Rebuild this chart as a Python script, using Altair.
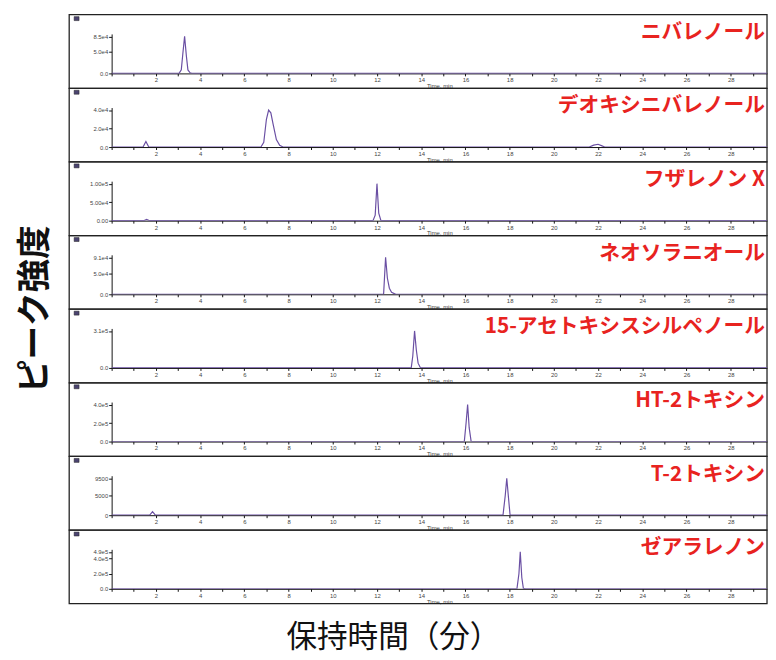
import altair as alt
import pandas as pd

# ---------------- data ----------------
names = ["ニバレノール", "デオキシニバレノール", "フザレノン X", "ネオソラニオール",
         "15-アセトキシスシルペノール", "HT-2トキシン", "T-2トキシン", "ゼアラレノン"]

times = [
    [0, 3.05, 3.15, 3.22, 3.3, 3.38, 3.45, 3.55, 3.62, 29.64],
    [0, 1.42, 1.55, 1.68, 6.75, 6.88, 7.0, 7.1, 7.2, 7.3, 7.45, 7.6, 7.75, 21.6, 21.8, 22.0, 22.15, 22.3, 29.64],
    [0, 1.45, 1.58, 1.72, 11.82, 11.92, 12.0, 12.08, 12.18, 29.64],
    [0, 12.3, 12.39, 12.47, 12.56, 12.66, 12.85, 29.64],
    [0, 13.55, 13.62, 13.7, 13.78, 13.86, 13.97, 29.64],
    [0, 15.95, 16.03, 16.1, 16.17, 16.26, 29.64],
    [0, 1.72, 1.85, 1.98, 17.7, 17.8, 17.87, 17.94, 18.02, 29.64],
    [0, 18.33, 18.42, 18.48, 18.55, 18.62, 18.72, 29.64],
]
values = [
    [0, 0, 8000, 45000, 85000, 40000, 8000, 1500, 0, 0],
    [0, 0, 6000, 0, 0, 5000, 30000, 40000, 37000, 25000, 8000, 2000, 0, 0, 2000, 3000, 1500, 0, 0],
    [0, 0, 3500, 0, 0, 15000, 100000, 20000, 0, 0],
    [0, 0, 91000, 40000, 15000, 5000, 0, 0],
    [0, 0, 100000, 310000, 150000, 40000, 0, 0],
    [0, 0, 200000, 400000, 150000, 0, 0],
    [0, 0, 900, 0, 0, 5000, 9500, 5000, 0, 0],
    [0, 0, 200000, 490000, 150000, 8000, 0, 0],
]
ytick_values = [
    [0, 50000, 85000],
    [0, 20000, 40000],
    [0, 50000, 100000],
    [0, 50000, 91000],
    [0, 310000],
    [0, 200000, 400000],
    [0, 5000, 9500],
    [0, 200000, 400000, 490000],
]
ytick_labels = [
    ["0.0", "5.0e4", "8.5e4"],
    ["0.0", "2.0e4", "4.0e4"],
    ["0.00", "5.00e4", "1.00e5"],
    ["0.0", "5.0e4", "9.1e4"],
    ["0.0", "3.1e5"],
    ["0.0", "2.0e5", "4.0e5"],
    ["0", "5000", "9500"],
    ["0.0", "2.0e5", "4.0e5", "4.9e5"],
]
ymax = [85000, 40000, 100000, 91000, 310000, 400000, 9500, 490000]
x_ticks = list(range(0, 30))

# ---------------- layout ----------------
W = 664
H = 40
XMAX = 29.64
SPACING = 34.6
PITCH = H + SPACING
BOX_TOP = -19.5
BOX_BOTTOM = PITCH - 19.5
BOX_LEFT = -43
LINE_COLOR = "#6a4fa3"
RED = "#e8231f"
FONT = "Noto Sans CJK JP"


def label_expr(vals, labs):
    expr = "''"
    for v, l in zip(vals, labs):
        expr = f"datum.value == {v} ? '{l}' : ({expr})"
    return expr


def panel(i):
    df = pd.DataFrame({"t": times[i], "v": values[i]})
    top = ymax[i] * H / 37.5
    x = alt.X(
        "t:Q",
        scale=alt.Scale(domain=[0, XMAX], nice=False, zero=False),
        axis=alt.Axis(
            values=x_ticks,
            labelExpr="datum.value % 2 == 0 && datum.value > 0 ? datum.label : ''",
            labelOverlap=False,
            labelFontSize=6,
            labelPadding=1,
            tickSize=2.5,
            title="Time, min",
            titleFontSize=6,
            titleFontWeight="normal",
            titlePadding=0,
            grid=False,
        ),
    )
    y = alt.Y(
        "v:Q",
        scale=alt.Scale(domain=[0, top], nice=False),
        axis=alt.Axis(
            values=ytick_values[i],
            labelExpr=label_expr(ytick_values[i], ytick_labels[i]),
            labelOverlap=False,
            labelFontSize=6,
            labelPadding=1,
            tickSize=3,
            title=None,
            grid=False,
        ),
    )
    line = alt.Chart(df).mark_line(color=LINE_COLOR, strokeWidth=1.2, clip=True).encode(x=x, y=y)
    box = alt.Chart(alt.Data(values=[{"a": 1}])).mark_rect(
        fill=None, stroke="#222222", strokeWidth=1.3
    ).encode(
        x=alt.value(BOX_LEFT), x2=alt.value(W),
        y=alt.value(BOX_TOP), y2=alt.value(BOX_BOTTOM),
    )
    corner = alt.Chart(alt.Data(values=[{"a": 1}])).mark_rect(
        fill="#4b4470", stroke="#222222", strokeWidth=0.5
    ).encode(
        x=alt.value(BOX_LEFT + 5), x2=alt.value(BOX_LEFT + 10),
        y=alt.value(BOX_TOP + 2), y2=alt.value(BOX_TOP + 6),
    )
    txt = alt.Chart(alt.Data(values=[{"a": 1}])).mark_text(
        align="right", baseline="middle", fontSize=21, fontWeight="bold",
        color=RED, font=FONT,
    ).encode(x=alt.value(W - 2), y=alt.value(-1), text=alt.value(names[i]))
    return alt.layer(box, corner, line, txt).properties(width=W, height=H)


inner = alt.vconcat(*[panel(i) for i in range(8)], spacing=SPACING, bounds="flush").properties(
    title=alt.TitleParams(
        "ピーク強度", orient="left", fontSize=34, fontWeight="bold", font=FONT,
        color="#111111", offset=16, anchor="middle",
    )
)

chart = alt.vconcat(inner).properties(
    title=alt.TitleParams(
        "保持時間（分）", orient="bottom", fontSize=31, fontWeight="normal", font=FONT,
        color="#111111", offset=19, anchor="middle",
    ),
    padding={"left": 11, "right": 0, "top": 1, "bottom": 0},
).configure_view(stroke=None).configure_axis(
    domainColor="#111111", tickColor="#111111", labelColor="#444444", titleColor="#444444",
    labelFont="Liberation Sans", titleFont="Liberation Sans",
)

chart.save("out.html", embed_options={"renderer": "svg", "actions": False})
